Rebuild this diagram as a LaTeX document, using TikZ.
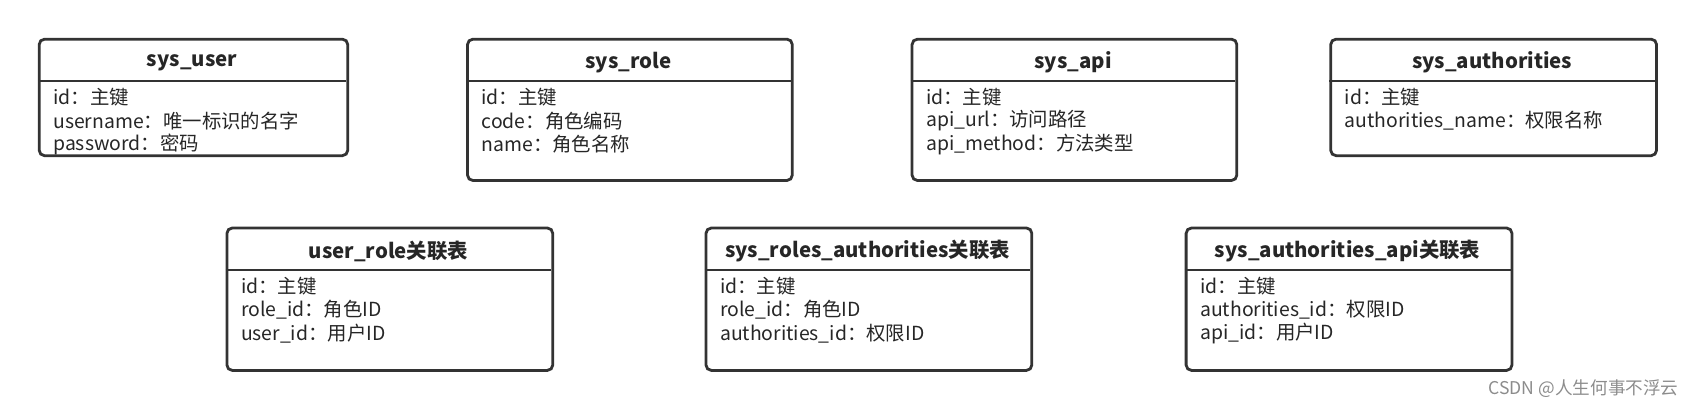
\documentclass[tikz,border=0pt]{standalone}
\usepackage{fontspec}
\setmainfont{Noto Sans CJK SC}
\begin{document}
\begin{tikzpicture}[x=0.5395pt,y=-0.5395pt,
  tbl/.style={draw=black!80,line width=1.4pt,rounded corners=2.7pt,anchor=north west,inner sep=0pt},
  ttl/.style={font=\fontsize{10.2pt}{12pt}\selectfont\bfseries,text=black!85},
  row/.style={anchor=west,inner sep=0pt,font=\fontsize{9.7pt}{12pt}\selectfont,text=black!85},
  sep/.style={draw=black!80,line width=1.2pt}]
\useasboundingbox (0,0) rectangle (1570,377.2);
\newcommand{\tbox}[7]{%
  \node[tbl,minimum width={(#4-#2)*0.5395pt},minimum height={(#5-#3)*0.5395pt}] (#1) at (#2,#3) {};
  \node[ttl] (#1t) at ({(#2+#4)/2},#3+23) {#6};
  \draw[sep] (#2,#3+40) -- (#4,#3+40);
  \foreach \txt [count=\i] in {#7} {\node[row] (#1r\i) at (#2+14,#3+33+22*\i) {\txt};}
}
\tbox{u}{35}{35}{321}{143}{sys\_user}{id：主键,username：唯一标识的名字,password：密码}
\tbox{r}{432}{35}{733}{166}{sys\_role}{id：主键,code：角色编码,name：角色名称}
\tbox{a}{844}{35}{1145}{166}{sys\_api}{id：主键,api\_url：访问路径,api\_method：方法类型}
\tbox{au}{1232}{35}{1534}{143}{sys\_authorities}{id：主键,authorities\_name：权限名称}
\tbox{ur}{209}{210}{511}{342}{user\_role关联表}{id：主键,role\_id：角色ID,user\_id：用户ID}
\tbox{ra}{653}{210}{955}{342}{sys\_roles\_authorities关联表}{id：主键,role\_id：角色ID,authorities\_id：权限ID}
\tbox{aa}{1098}{210}{1400}{342}{sys\_authorities\_api关联表}{id：主键,authorities\_id：权限ID,api\_id：用户ID}
\node[anchor=east,inner sep=0pt,text=black!45,font=\fontsize{8.8pt}{10pt}\selectfont] (wm) at (1556,360) {CSDN @人生何事不浮云};
\end{tikzpicture}
\end{document}
